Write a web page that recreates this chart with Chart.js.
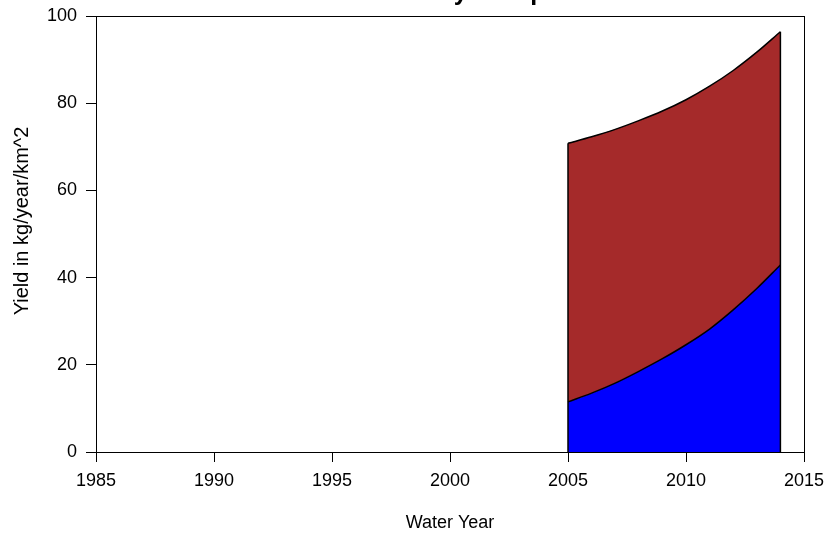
<!DOCTYPE html>
<html>
<head>
<meta charset="utf-8">
<script src="https://cdn.jsdelivr.net/npm/chart.js@4/dist/chart.umd.min.js"></script>
<style>
  html, body { margin: 0; padding: 0; background: #ffffff; }
  #wrap { width: 831px; height: 536px; position: relative; }
</style>
</head>
<body>
<div id="wrap"><canvas id="chart"></canvas></div>
<script>
// Water years covered by the yield estimates
const waterYears = [2005, 2006, 2007, 2008, 2009, 2010, 2011, 2012, 2013, 2014];
// Lower component (blue) and total yield (top of brown band), kg/year/km^2
const lowerYield = [11.5, 13.5, 15.8, 18.5, 21.4, 24.6, 28.2, 32.6, 37.5, 42.9];
const totalYield = [70.8, 72.3, 74.0, 76.0, 78.2, 80.8, 83.9, 87.5, 91.7, 96.4];
// Axis ticks
const xTicks = [1985, 1990, 1995, 2000, 2005, 2010, 2015];
const yTicks = [0, 20, 40, 60, 80, 100];

const titleText = 'Nitrate Yield by Component';
const xTitle = 'Water Year';
const yTitle = 'Yield in kg/year/km^2';

const FONT = '"Liberation Sans", Arial, Helvetica, sans-serif';
const toPoints = vals => vals.map((v, i) => ({ x: waterYears[i], y: v }));

// Frame, side edges of the filled bands, and the titles
const framePlugin = {
  id: 'frame',
  afterDatasetsDraw(chart) {
    const { ctx, scales: { x, y } } = chart;
    ctx.save();
    ctx.strokeStyle = '#000';
    ctx.lineWidth = 1.5;
    const x0 = x.getPixelForValue(waterYears[0]);
    const x1 = x.getPixelForValue(waterYears[waterYears.length - 1]);
    const base = y.getPixelForValue(0);
    ctx.beginPath();
    ctx.moveTo(x0, base); ctx.lineTo(x0, y.getPixelForValue(totalYield[0]));
    ctx.moveTo(x1, base); ctx.lineTo(x1, y.getPixelForValue(totalYield[totalYield.length - 1]));
    ctx.stroke();
    ctx.restore();
  },
  afterDraw(chart) {
    const { ctx, chartArea: a } = chart;
    ctx.save();
    ctx.strokeStyle = '#000';
    ctx.lineWidth = 1;
    ctx.strokeRect(Math.round(a.left) + 0.5, Math.round(a.top) + 0.5,
                   Math.round(a.right - a.left), Math.round(a.bottom - a.top));
    ctx.fillStyle = '#000';
    ctx.textAlign = 'center';
    ctx.textBaseline = 'middle';
    ctx.font = '18px ' + FONT;
    ctx.fillText(xTitle, (a.left + a.right) / 2, 523);
    ctx.save();
    ctx.translate(22, 221);
    ctx.rotate(-Math.PI / 2);
    ctx.font = '20px ' + FONT;
    ctx.fillText(yTitle, 0, 0);
    ctx.restore();
    ctx.font = 'bold 25px ' + FONT;
    ctx.textBaseline = 'alphabetic';
    ctx.fillText(titleText, (a.left + a.right) / 2, 0);
    ctx.restore();
  }
};

new Chart(document.getElementById('chart'), {
  type: 'line',
  data: {
    datasets: [
      {
        label: 'Lower component',
        data: toPoints(lowerYield),
        borderColor: '#000000',
        borderWidth: 1.5,
        backgroundColor: '#0000FF',
        fill: 'origin',
        pointRadius: 0,
        cubicInterpolationMode: 'monotone'
      },
      {
        label: 'Total',
        data: toPoints(totalYield),
        borderColor: '#000000',
        borderWidth: 1.5,
        backgroundColor: '#A52A2A',
        fill: '-1',
        pointRadius: 0,
        cubicInterpolationMode: 'monotone'
      }
    ]
  },
  options: {
    responsive: true,
    maintainAspectRatio: false,
    animation: false,
    layout: { padding: { top: 16, right: 27, left: 0, bottom: 0 } },
    plugins: { legend: { display: false }, tooltip: { enabled: false }, title: { display: false } },
    scales: {
      x: {
        type: 'linear',
        min: 1985, max: 2015,
        afterFit: s => { s.height = 84; s.paddingLeft = 0; s.paddingRight = 0; },
        afterBuildTicks: s => { s.ticks = xTicks.map(v => ({ value: v })); },
        ticks: {
          callback: v => String(v),
          color: '#000', padding: 8, maxRotation: 0, autoSkip: false,
          font: { family: FONT, size: 18 }
        },
        grid: { drawOnChartArea: false, drawTicks: true, tickLength: 10, color: '#000', lineWidth: 1 },
        border: { display: true, color: '#000', width: 1 }
      },
      y: {
        min: 0, max: 100,
        afterFit: s => { s.width = 96; s.paddingTop = 0; s.paddingBottom = 0; },
        afterBuildTicks: s => { s.ticks = yTicks.map(v => ({ value: v })); },
        ticks: {
          callback: v => String(v),
          color: '#000', padding: 9, autoSkip: false,
          font: { family: FONT, size: 18 }
        },
        grid: { drawOnChartArea: false, drawTicks: true, tickLength: 10, color: '#000', lineWidth: 1 },
        border: { display: true, color: '#000', width: 1 }
      }
    }
  },
  plugins: [framePlugin]
});
</script>
</body>
</html>
